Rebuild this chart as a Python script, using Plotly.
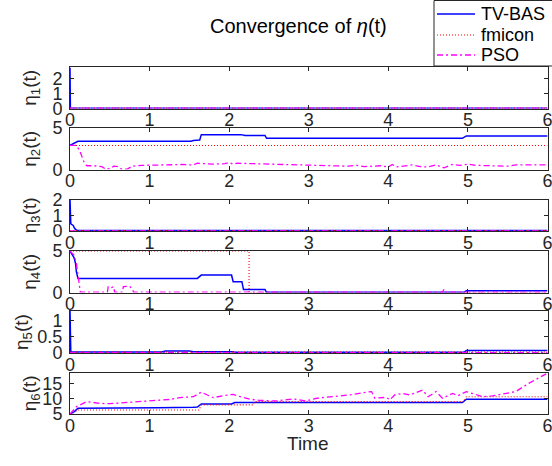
import plotly.graph_objects as go

W, H = 552, 466

# ---------------- data ----------------
series_names = ["TV-BAS", "fmicon", "PSO"]
x_ticks = [0, 1, 2, 3, 4, 5, 6]

# eta_1
eta1_tvbas_t = [0, 0.005, 6]
eta1_tvbas_y = [2.75, 0.02, 0.02]
eta1_fmicon_t = [0, 6]
eta1_fmicon_y = [0.01, 0.01]
eta1_pso_t = [0, 6]
eta1_pso_y = [0.02, 0.02]

# eta_2
eta2_tvbas_t = [0, 0.07, 0.1, 1.52, 1.55, 1.63, 1.65, 2.15, 2.2, 2.45, 2.47, 4.93, 4.98, 6]
eta2_tvbas_y = [2.9, 3.3, 3.4, 3.4, 3.5, 3.55, 4.2, 4.2, 4.1, 4.1, 3.75, 3.75, 4.05, 4.05]
eta2_fmicon_t = [0, 6]
eta2_fmicon_y = [2.9, 2.9]
eta2_pso_t = [0, 0.08, 0.12, 0.15, 0.18, 0.21, 0.3, 0.4, 0.45, 0.5, 0.55, 0.6, 0.65, 0.72,
              0.78, 0.9, 1.0, 1.2, 1.4, 1.55, 1.6, 1.7, 1.8, 1.95, 2.0, 2.05, 2.1, 2.3,
              2.5, 2.7, 2.9, 3.1, 3.3, 3.5, 3.6, 3.7, 3.9, 4.0, 4.05, 4.1, 4.3, 4.4, 4.5,
              4.6, 4.7, 4.8, 4.9, 5.0, 5.1, 5.3, 5.5, 5.6, 5.8, 6]
eta2_pso_y = [2.9, 2.9, 2.3, 1.5, 0.8, 0.45, 0.45, 0.35, 0.05, 0.1, 0.4, 0.35, 0.05, 0.05,
              0.4, 0.5, 0.5, 0.55, 0.6, 0.55, 0.75, 0.7, 0.65, 0.7, 0.85, 0.65, 0.75, 0.7,
              0.65, 0.55, 0.55, 0.5, 0.45, 0.4, 0.5, 0.35, 0.45, 0.3, 0.6, 0.3, 0.55, 0.35, 0.3,
              0.55, 0.2, 0.6, 0.5, 0.65, 0.5, 0.45, 0.4, 0.55, 0.55, 0.55]

# eta_3
eta3_tvbas_t = [0, 0.01, 0.04, 0.06, 0.09, 2.03, 2.05, 4.95, 4.98, 6]
eta3_tvbas_y = [2.0, 0.45, 0.35, 0.15, 0.03, 0.03, 0.01, 0.01, 0.03, 0.03]
eta3_fmicon_t = [0, 6]
eta3_fmicon_y = [0.005, 0.005]
eta3_pso_t = [0, 6]
eta3_pso_y = [0.01, 0.01]

# eta_4
eta4_tvbas_t = [0, 0.03, 0.05, 0.07, 0.08, 0.1, 1.6, 1.65, 2.03, 2.05, 2.16, 2.18, 2.45, 2.47, 4.95, 4.98, 6]
eta4_tvbas_y = [5, 4.6, 4.2, 3.5, 2.5, 1.7, 1.7, 2.1, 2.1, 1.3, 1.3, 0.35, 0.35, 0.02, 0.02, 0.2, 0.2]
eta4_fmicon_t = [0, 2.25, 2.25, 6]
eta4_fmicon_y = [5, 5, 0, 0]
eta4_pso_t = [0, 0.05, 0.08, 0.1, 0.12, 0.13, 0.47, 0.48, 0.52, 0.55, 0.56, 0.66, 0.67, 0.75,
              0.78, 0.8, 4.68, 4.7, 4.72, 6]
eta4_pso_y = [5, 4.5, 3.5, 2.0, 1.2, 0.05, 0.05, 0.7, 0.6, 0.7, 0.05, 0.05, 0.7, 0.75,
              0.4, 0.05, 0.05, 0.4, 0.05, 0.05]

# eta_5
eta5_tvbas_t = [0, 0.01, 1.15, 1.2, 1.5, 1.55, 2.05, 2.07, 4.95, 4.98, 6]
eta5_tvbas_y = [1.3, 0.03, 0.03, 0.06, 0.06, 0.04, 0.04, 0.02, 0.02, 0.08, 0.08]
eta5_fmicon_t = [0, 6]
eta5_fmicon_y = [0.03, 0.03]
eta5_pso_t = [0, 6]
eta5_pso_y = [0.01, 0.01]

# eta_6
eta6_tvbas_t = [0, 0.05, 0.1, 1.0, 1.1, 1.55, 1.6, 1.65, 2.03, 2.07, 4.93, 4.98, 6]
eta6_tvbas_y = [5, 5.7, 6.9, 6.9, 7.1, 7.2, 7.3, 8.3, 8.3, 8.8, 8.8, 9.9, 9.9]
eta6_fmicon_t = [0, 0.05, 0.1, 1.62, 1.65, 2.3, 2.32, 4.95, 4.98, 6]
eta6_fmicon_y = [5, 5.5, 6.3, 6.3, 8.0, 8.0, 9.1, 9.1, 10.7, 10.7]
eta6_pso_t = [0, 0.08, 0.21, 0.38, 0.5, 0.71, 0.92, 1.13, 1.25, 1.38, 1.55, 1.65, 1.71, 1.8,
              1.92, 2.05, 2.13, 2.26, 2.38, 2.59, 2.8, 2.97, 3.1, 3.3, 3.51, 3.72, 3.79, 3.83,
              3.97, 4.02, 4.08, 4.18, 4.27, 4.43, 4.5, 4.6, 4.68, 4.81, 4.87, 4.98, 5.06, 5.19,
              5.31, 5.48, 5.6, 5.77, 5.9, 6.0]
eta6_pso_y = [5, 7.4, 9.1, 8.5, 8.4, 8.8, 9.3, 9.6, 9.8, 10.4, 10.7, 12.2, 11.5, 10.4,
              11.0, 11.5, 10.8, 9.9, 9.5, 9.3, 10.0, 9.3, 10.2, 10.7, 11.3, 12.2, 12.4, 10.2,
              10.5, 9.7, 11.3, 11.8, 11.3, 12.9, 10.7, 12.4, 10.2, 11.8, 11.0, 12.4, 11.8, 10.7,
              11.0, 11.8, 12.4, 15.2, 17.0, 18.5]

y_ticks = [[0, 1, 2], [0, 5], [0, 1, 2], [0, 5], [0, 0.5, 1], [5, 10, 15]]
y_ranges = [[0, 2.8], [0, 5], [0, 2], [0, 5], [0, 1.3], [5, 18.7]]

panels = [
    [(eta1_tvbas_t, eta1_tvbas_y), (eta1_fmicon_t, eta1_fmicon_y), (eta1_pso_t, eta1_pso_y)],
    [(eta2_tvbas_t, eta2_tvbas_y), (eta2_fmicon_t, eta2_fmicon_y), (eta2_pso_t, eta2_pso_y)],
    [(eta3_tvbas_t, eta3_tvbas_y), (eta3_fmicon_t, eta3_fmicon_y), (eta3_pso_t, eta3_pso_y)],
    [(eta4_tvbas_t, eta4_tvbas_y), (eta4_fmicon_t, eta4_fmicon_y), (eta4_pso_t, eta4_pso_y)],
    [(eta5_tvbas_t, eta5_tvbas_y), (eta5_fmicon_t, eta5_fmicon_y), (eta5_pso_t, eta5_pso_y)],
    [(eta6_tvbas_t, eta6_tvbas_y), (eta6_fmicon_t, eta6_fmicon_y), (eta6_pso_t, eta6_pso_y)],
]

# ---------------- styling / layout ----------------
FONT = "Liberation Sans, Arial, Helvetica, sans-serif"
TXT = "#262626"
styles = [
    dict(color="#0000ff", width=1.5, dash="solid"),
    dict(color="#ff0000", width=1.1, dash="1px,2px"),
    dict(color="#ff00ff", width=1.3, dash="6px,3px,2px,3px"),
]
# pixel top/bottom of each axes box
boxes_px = [(67, 108.5), (128, 169.5), (199.5, 231), (251, 292.5), (311, 353), (372.5, 414)]
ylabel_x_px = [31, 31, 31, 31, 23, 31]
x_px = (70, 547.5)

fig = go.Figure()
layout = dict(
    width=W, height=H,
    margin=dict(l=0, r=0, t=0, b=0, autoexpand=False),
    paper_bgcolor="white", plot_bgcolor="white",
    font=dict(family=FONT, size=18, color=TXT),
    showlegend=False,
)
annotations = []
shapes = []

for i, panel in enumerate(panels):
    k = i + 1
    xa = "x" if k == 1 else f"x{k}"
    ya = "y" if k == 1 else f"y{k}"
    for j, (tt, yy) in enumerate(panel):
        fig.add_trace(go.Scatter(
            x=tt, y=yy, mode="lines", name=series_names[j],
            line=styles[j], xaxis=xa, yaxis=ya, showlegend=False,
        ))
    top, bot = boxes_px[i]
    axis_common = dict(
        showline=True, linecolor=TXT, linewidth=1, mirror="ticks",
        ticks="inside", ticklen=4, tickcolor=TXT, tickwidth=1,
        showgrid=False, zeroline=False, ticklabeloverflow="allow",
        tickfont=dict(family=FONT, size=18, color=TXT),
    )
    layout["xaxis" if k == 1 else f"xaxis{k}"] = dict(
        domain=[x_px[0] / W, x_px[1] / W], range=[0, 6],
        tickvals=x_ticks, anchor=ya, ticklabelstandoff=-5, **axis_common,
    )
    layout["yaxis" if k == 1 else f"yaxis{k}"] = dict(
        domain=[1 - bot / H, 1 - top / H], range=y_ranges[i],
        tickvals=y_ticks[i], anchor=xa, ticklabelstandoff=3,
        **axis_common,
    )
    annotations.append(dict(
        text=f"η<sub>{k}</sub>(t)", xref="paper", yref="paper",
        x=ylabel_x_px[i] / W, y=1 - (top + bot) / 2 / H,
        xanchor="center", yanchor="middle", textangle=-90, showarrow=False,
        font=dict(family=FONT, size=19, color=TXT),
    ))

# x-axis label
annotations.append(dict(
    text="Time", xref="paper", yref="paper", x=308 / W, y=1 - 443 / H,
    xanchor="center", yanchor="middle", showarrow=False,
    font=dict(family=FONT, size=19, color=TXT),
))
# title
annotations.append(dict(
    text="Convergence of <i>η</i>(t)", xref="paper", yref="paper",
    x=298 / W, y=1 - 26 / H, xanchor="center", yanchor="middle", showarrow=False,
    font=dict(family=FONT, size=20, color="#000000"),
))

# legend (box, line samples, labels)
leg_left, leg_top, leg_bot = 434, 0.5, 66
shapes.append(dict(
    type="rect", xref="paper", yref="paper",
    x0=leg_left / W, x1=1.02, y0=1 - leg_bot / H, y1=1 - leg_top / H,
    line=dict(color=TXT, width=1), fillcolor="white", layer="above",
))
leg_rows = [14, 35, 55]
for j, name in enumerate(series_names):
    yy = 1 - leg_rows[j] / H
    shapes.append(dict(
        type="line", xref="paper", yref="paper",
        x0=437 / W, x1=475 / W, y0=yy, y1=yy,
        line=dict(color=styles[j]["color"], width=styles[j]["width"], dash=styles[j]["dash"]),
        layer="above",
    ))
    annotations.append(dict(
        text=name, xref="paper", yref="paper", x=479 / W, y=yy,
        xanchor="left", yanchor="middle", showarrow=False,
        font=dict(family=FONT, size=18, color="#000000"),
    ))

layout["annotations"] = annotations
layout["shapes"] = shapes
fig.update_layout(**layout)
fig.write_html("out.html")
